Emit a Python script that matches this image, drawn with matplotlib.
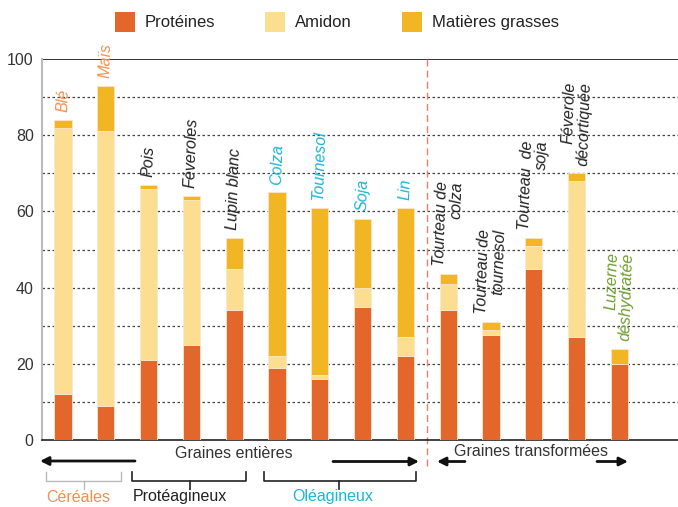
import matplotlib
matplotlib.use("Agg")
import matplotlib.pyplot as plt
from matplotlib.patches import Patch
import numpy as np

plt.rcParams['font.family'] = ['Liberation Sans', 'DejaVu Sans']

categories = ["Blé", "Maïs", "Pois", "Féveroles", "Lupin blanc", "Colza", "Tournesol",
              "Soja", "Lin", "Tourteau de\ncolza", "Tourteau de\ntournesol",
              "Tourteau  de\nsoja", "Féverole\ndécortiquée", "Luzerne\ndéshydratée"]
proteines = [12, 9, 21, 25, 34, 19, 16, 35, 22, 34, 27.5, 45, 27, 20]
amidon = [70, 72, 45, 38, 11, 3, 1, 5, 5, 7, 1.5, 6, 41, 0]
matieres_grasses = [2, 12, 1, 1, 8, 43, 44, 18, 34, 2.5, 2, 2, 2, 4]
label_colors = ["#F4904F", "#F4904F", "#222222", "#222222", "#222222", "#1DB5DA", "#1DB5DA",
                "#1DB5DA", "#1DB5DA", "#222222", "#222222", "#222222", "#222222", "#6E9F30"]
yticks = [0, 20, 40, 60, 80, 100]

c_prot = "#E3672A"
c_amid = "#FBDE8F"
c_mg = "#F2B523"

fig = plt.figure(figsize=(6.78, 5.07), dpi=100)
ax = fig.add_axes([42/678, (507-440)/507, 636/678, 381/507])

x = np.arange(len(categories))
w = 0.4
prot = np.array(proteines)
am = np.array(amidon)
mg = np.array(matieres_grasses)
ec = "#FBE6D0"
ax.bar(x, prot, w, color=c_prot, edgecolor=ec, linewidth=0.6, zorder=3)
ax.bar(x, am, w, bottom=prot, color=c_amid, edgecolor=ec, linewidth=0.6, zorder=3)
ax.bar(x, mg, w, bottom=prot + am, color=c_mg, edgecolor=ec, linewidth=0.6, zorder=3)

ax.set_xlim(-0.49, 14.37)
ax.set_ylim(0, 100)
ax.set_yticks(yticks)
ax.set_yticklabels([str(v) for v in yticks], fontsize=11.5, color="#333333")
ax.tick_params(axis='y', length=0, pad=6)
ax.set_xticks([])
for yv in range(10, 100, 10):
    ax.axhline(yv, color="#444444", linestyle=(0, (2, 2)), linewidth=0.9, zorder=1)
ax.axhline(100, color="#111111", linewidth=1.2, zorder=2)
ax.spines['top'].set_visible(False)
ax.spines['right'].set_visible(False)
ax.spines['left'].set_color("#BBBBBB")
ax.spines['left'].set_linewidth(1.5)
ax.spines['bottom'].set_color("#222222")
ax.spines['bottom'].set_linewidth(1.2)

totals = prot + am + mg
for xi, t, lab, col in zip(x, totals, categories, label_colors):
    ax.text(xi, t + 2, lab, rotation=88, ha='center', va='bottom', fontsize=11.5,
            style='italic', color=col, multialignment='right', clip_on=False, zorder=4,
            linespacing=1.0)

# separator
ax.plot([8.5, 8.5], [100, -8], color="#E8806A", linestyle=(0, (5, 3)), linewidth=1,
        clip_on=False, zorder=2)

# overlay for bottom annotations (pixel coordinates)
ov = fig.add_axes([0, 0, 1, 1], facecolor='none')
ov.set_xlim(0, 678)
ov.set_ylim(507, 0)
ov.axis('off')

txtc = "#333333"
ov.text(234, 453, "Graines entières", ha='center', va='center', fontsize=11.5, color=txtc)
ov.text(531, 452, "Graines transformées", ha='center', va='center', fontsize=11.5, color=txtc)

def arrow(x0, x1, y):
    ov.annotate("", xy=(x1, y), xytext=(x0, y),
                arrowprops=dict(arrowstyle="-|>,head_length=0.5,head_width=0.25",
                                color="#111111", lw=2, shrinkA=0, shrinkB=0))

arrow(135, 40, 461)
arrow(333, 419, 461.5)
arrow(465, 437, 461.5)
arrow(597, 628, 461.5)

def bracket(x0, x1, xt, col, lw):
    ov.plot([x0, x0, x1, x1], [472, 481, 481, 472], color=col, lw=lw)
    ov.plot([xt, xt], [481, 489], color=col, lw=lw)

bracket(46, 121, 84, "#BBBBBB", 1.0)
bracket(132, 246, 190, "#222222", 1.2)
bracket(264, 416, 339, "#222222", 1.2)

ov.text(78, 497, "Céréales", ha='center', va='center', fontsize=11.5, color="#F4904F")
ov.text(180, 497, "Protéagineux", ha='center', va='center', fontsize=11.5, color="#222222")
ov.text(333, 497, "Oléagineux", ha='center', va='center', fontsize=11.5, color="#1DB5DA")

handles = [Patch(facecolor=c_prot, label="Protéines"),
           Patch(facecolor=c_amid, label="Amidon"),
           Patch(facecolor=c_mg, label="Matières grasses")]
fig.legend(handles=handles, loc='center', bbox_to_anchor=(0.497, 0.957), ncol=3,
           frameon=False, fontsize=12, handlelength=1.2, handleheight=1.5,
           handletextpad=0.6, columnspacing=3.0, labelcolor="#222222")

fig.savefig("out.png", dpi=100)
